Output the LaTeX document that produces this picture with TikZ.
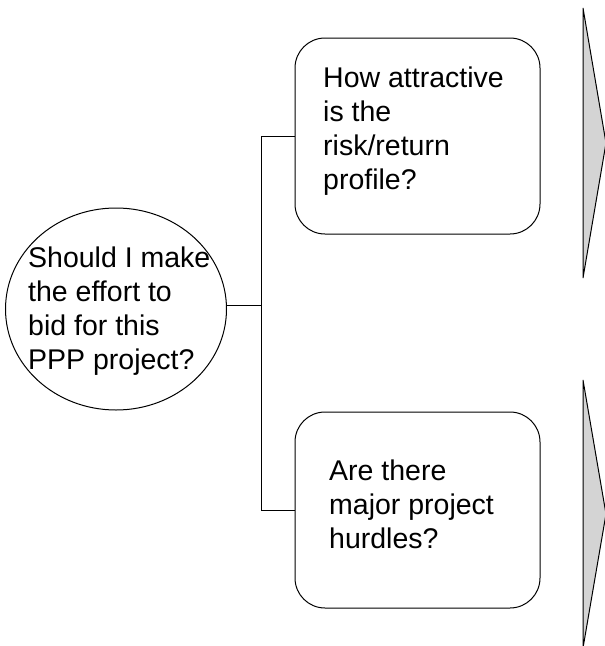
\documentclass[tikz,border=0pt]{standalone}
\usepackage{fontspec}
\setmainfont{Liberation Sans}
\usetikzlibrary{shapes.geometric}
\definecolor{chevronfill}{RGB}{212,212,212}
\begin{document}
\begin{tikzpicture}[x=1pt,y=-1pt,
  outline/.style={draw=black,line width=1pt},
  question/.style={outline,ellipse,inner sep=0pt,minimum width=221pt,minimum height=202pt},
  optionbox/.style={outline,rectangle,rounded corners=30pt,inner sep=0pt,minimum width=245pt,minimum height=196pt},
  caption/.style={anchor=base west,inner sep=0pt,font=\fontsize{28.5}{34}\selectfont},
  chevron/.style={outline,fill=chevronfill,line join=miter},
  link/.style={draw=black,line width=1pt}]
  \useasboundingbox (0,0) rectangle (605,646);

  % central question and the two options
  \node[question] (q) at (116,309) {};
  \node[optionbox] (b1) at (417.5,136) {};
  \node[optionbox] (b2) at (417.5,510) {};

  % texts
  \node[caption] (tq) at (28,267) {\begin{tabular}[t]{@{}l@{}}Should I make\\the effort to\\bid for this\\PPP project?\end{tabular}};
  \node[caption] (t1) at (323,87) {\begin{tabular}[t]{@{}l@{}}How attractive\\is the\\risk/return\\profile?\end{tabular}};
  \node[caption] (t2) at (329,480) {\begin{tabular}[t]{@{}l@{}}Are there\\major project\\hurdles?\end{tabular}};

  % tree connectors
  \coordinate (j) at (261,305);
  \draw[link] (j) -- (q.east |- j);
  \draw[link] (b1.west) -| (j);
  \draw[link] (b2.west) -| (j);

  % chevrons on the right
  \draw[chevron] (583,8) -- (606,143) -- (583,278) -- cycle;
  \draw[chevron] (583,380) -- (606,514) -- (583,648) -- cycle;
\end{tikzpicture}
\end{document}
